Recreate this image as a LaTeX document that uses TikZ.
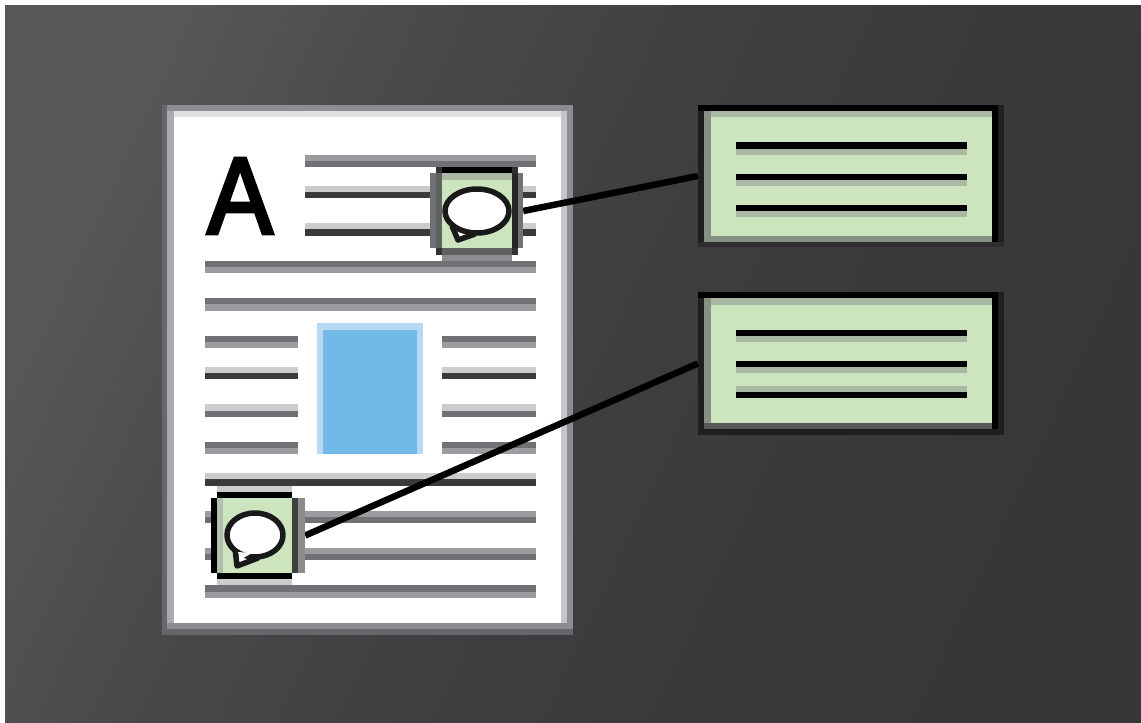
\documentclass[tikz,border=0pt]{standalone}
\usepackage{fontspec}
\setmainfont{Liberation Sans}
\newfontfamily\boldA[FakeBold=3.5]{Liberation Sans}
\definecolor{bg1}{HTML}{575758}
\definecolor{bg2}{HTML}{49494A}
\definecolor{bg3}{HTML}{3F3F41}
\definecolor{bg4}{HTML}{3A3A3C}
\definecolor{bg5}{HTML}{373739}
\pgfdeclarehorizontalshading{bgsh}{100bp}{color(0bp)=(bg1);color(25bp)=(bg1);color(37bp)=(bg2);color(50bp)=(bg3);color(62bp)=(bg4);color(75bp)=(bg5);color(100bp)=(bg5)}
\definecolor{ln}{HTML}{9B9CA0}
\definecolor{ld}{HTML}{707174}
\definecolor{ll}{HTML}{CCCCCF}
\definecolor{dd}{HTML}{3A3A3C}
\definecolor{gr}{HTML}{CCE5BF}
\definecolor{gs}{HTML}{A9B9A4}
\definecolor{gd}{HTML}{858F83}
\definecolor{blueIn}{HTML}{72B9E8}
\definecolor{blueEd}{HTML}{B8D8F3}
\definecolor{pgA}{HTML}{66676A}
\definecolor{pgB}{HTML}{8C8D90}
\definecolor{pgC}{HTML}{A9AAAE}
\definecolor{pgD}{HTML}{C5C6C9}
\definecolor{pgE}{HTML}{E0E0E2}
\newcommand{\rct}[5]{\fill[#1] (#2,#3) rectangle (#4,#5);}
\newcommand{\twoline}[7]{\fill[#1] (#3,#5) rectangle (#4,#6); \fill[#2] (#3,#6) rectangle (#4,#7);}
\tikzset{
  x=1pt,y=-1pt,
  notebox/.style={rectangle,inner sep=0pt,minimum width=306pt,fill=black!88},
  iconbox/.style={rectangle,inner sep=0pt},
  link/.style={draw=black,line width=6.5pt},
  bubble/.style={draw=black!90,line width=5.5pt,fill=white,line join=round}
}
\begin{document}
\begin{tikzpicture}
\useasboundingbox (0,0) rectangle (1141,723);
\fill[white] (0,0) rectangle (1141,723);
\shade[shading=bgsh,shading angle=-25] (5,5) rectangle (1141,723);
% page
\rct{pgA}{162}{105}{573}{635}
\rct{pgB}{167}{105}{573}{111}
\rct{pgC}{167}{111}{174}{623}
\rct{pgB}{167}{623}{573}{629}
\rct{pgB}{567}{105}{573}{629}
\rct{pgD}{561}{111}{567}{623}
\rct{pgE}{174}{111}{561}{117}
\rct{white}{174}{117}{561}{623}
% text lines
\twoline{ln}{ld}{305}{536}{155}{161}{167}
\twoline{ll}{dd}{305}{536}{186}{192}{198}
\twoline{ll}{dd}{305}{536}{223}{229}{236}
\twoline{ld}{ln}{205}{536}{261}{267}{273}
\twoline{ld}{ln}{205}{536}{298}{304}{311}
\twoline{ld}{ln}{205}{298}{336}{342}{348}
\twoline{ld}{ln}{442}{536}{336}{342}{348}
\twoline{ll}{dd}{205}{298}{367}{373}{379}
\twoline{ll}{dd}{442}{536}{367}{373}{379}
\twoline{ll}{ld}{205}{298}{404}{411}{417}
\twoline{ll}{ld}{442}{536}{404}{411}{417}
\twoline{ld}{ln}{205}{298}{442}{448}{454}
\twoline{ld}{ln}{442}{536}{442}{448}{454}
\twoline{ll}{dd}{205}{536}{473}{479}{486}
\twoline{ln}{ld}{205}{536}{511}{517}{523}
\twoline{ln}{ld}{205}{536}{548}{554}{560}
\twoline{ld}{ln}{205}{536}{585}{592}{598}
% picture
\rct{blueEd}{317}{323}{423}{454}
\rct{blueIn}{323}{330}{417}{454}
% letter
\node[inner sep=0pt,anchor=center] (letterA) at (240,196) {\fontsize{109}{109}\selectfont\boldA\scalebox{.9}[1]{A}};
% boxes and icons
\node[notebox,minimum height=142pt] (note1) at (851,176) {};
\node[notebox,minimum height=143pt] (note2) at (851,363.5) {};
\rct{ll}{217}{486}{292}{492}
\rct{ll}{217}{579}{292}{585}
\rct{pgB}{442}{255}{512}{261}
\node[iconbox,minimum width=93pt,minimum height=88pt] (icon1) at (476.5,211) {};
\node[iconbox,minimum width=94pt,minimum height=87pt] (icon2) at (258,535.5) {};
\draw[link] (icon1.east) -- (note1.west);
\draw[link] (icon2.east) -- (note2.west);
% note 1 interior
\rct{gr}{704}{111}{992}{242}
\rct{gs}{704}{111}{992}{117}
\rct{gd}{704}{111}{711}{242}
\rct{gd}{704}{236}{992}{242}
\rct{black!82}{698}{242}{1004}{247}
\rct{black}{698}{105}{998}{111}
\rct{black}{992}{105}{998}{242}
\twoline{black}{gs}{736}{967}{142}{149}{155}
\twoline{black}{gs}{736}{967}{174}{180}{186}
\twoline{black}{gs}{736}{967}{205}{211}{217}
% note 2 interior
\rct{gr}{704}{298}{992}{429}
\rct{gs}{704}{298}{992}{305}
\rct{gd}{704}{298}{711}{429}
\rct{black!65}{704}{423}{992}{429}
\rct{black}{698}{292}{998}{298}
\rct{black}{992}{292}{998}{429}
\twoline{black}{gs}{736}{967}{330}{336}{342}
\twoline{black}{gs}{736}{967}{361}{367}{373}
\rct{gs}{736}{386}{967}{392}
\rct{black}{736}{392}{967}{398}
% icon 1
\rct{gr}{442}{173}{512}{248}
\rct{pgB!80!black}{430}{173}{436}{248}
\rct{black!62}{436}{173}{442}{248}
\rct{black!85}{512}{173}{518}{248}
\rct{black!55}{518}{173}{523}{248}
\rct{black!80}{436}{167}{442}{173}
\rct{black!80}{512}{167}{518}{173}
\rct{black!80}{436}{248}{442}{255}
\rct{black!80}{512}{248}{518}{255}
\rct{black}{442}{167}{512}{173}
\rct{gs}{442}{173}{512}{180}
\rct{black!62}{442}{248}{512}{255}
\draw[bubble] (452,226) -- (458,240) -- (475,234);
\draw[bubble] (477,211) ellipse (32 and 22);
% icon 2
\rct{gr}{217}{498}{292}{573}
\rct{black}{217}{492}{292}{498}
\rct{black}{217}{573}{292}{579}
\rct{black}{211}{498}{217}{573}
\rct{black!75}{292}{498}{298}{573}
\rct{black!45}{298}{498}{305}{573}
\rct{gs!90}{217}{498}{223}{573}
\fill[white,draw=black!90,line width=5.5pt,line join=round] (235,548) -- (237,566) -- (258,558) -- cycle;
\draw[bubble] (255,535) ellipse (28 and 22);
\fill[white] (238,552) -- (240,560) -- (252,553) -- cycle;
\end{tikzpicture}
\end{document}
